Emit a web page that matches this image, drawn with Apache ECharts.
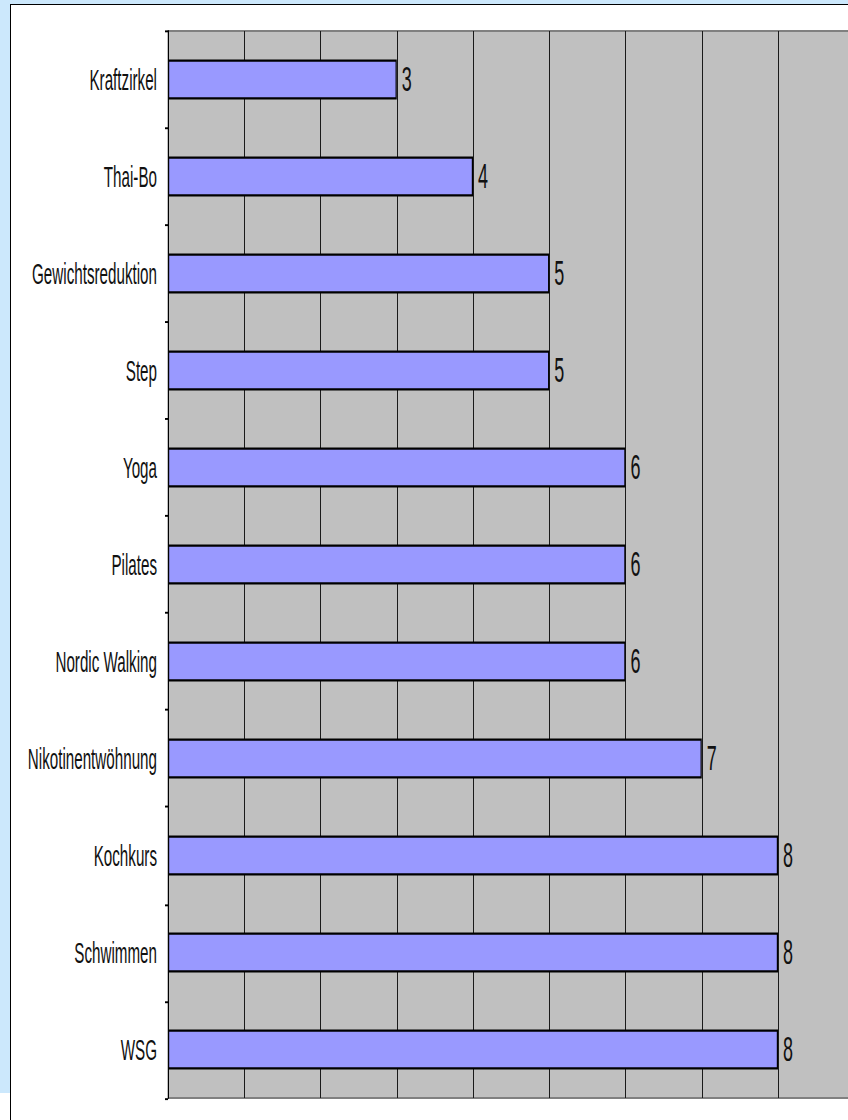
<!DOCTYPE html>
<html>
<head>
<meta charset="utf-8">
<script src="https://cdn.jsdelivr.net/npm/echarts@6/dist/echarts.min.js"></script>
<style>
html, body { margin:0; padding:0; width:848px; height:1120px; overflow:hidden; background:#ffffff; }
#bg { position:absolute; left:0; top:0; width:848px; height:1093px; background:#cce8fc; }
#panel { position:absolute; left:10px; top:4px; width:1000px; height:1200px; background:#ffffff; border-left:1px solid #000; border-top:1px solid #000; }
#chart { position:absolute; left:0; top:0; width:960px; height:590px; transform:scaleY(1.9); transform-origin:0 0; }
</style>
</head>
<body>
<div id="bg"></div>
<div id="panel"></div>
<div id="chart"></div>
<script>
const categories = ['Kraftzirkel','Thai-Bo','Gewichtsreduktion','Step','Yoga','Pilates','Nordic Walking','Nikotinentwöhnung','Kochkurs','Schwimmen','WSG'];
const values = [3,4,5,5,6,6,6,7,8,8,8];
const xMin = 0, xMax = 10, xInterval = 1;

const S = 1.9;
const chart = echarts.init(document.getElementById('chart'), null, { renderer: 'svg' });
chart.setOption({
  animation: false,
  backgroundColor: 'transparent',
  grid: {
    left: 168, top: 31 / S, width: 762.5, height: 1067 / S,
    show: true, backgroundColor: '#c0c0c0', borderColor: '#808080', borderWidth: 1
  },
  xAxis: {
    type: 'value', min: xMin, max: xMax, interval: xInterval,
    axisLine: { show: false }, axisTick: { show: false }, axisLabel: { show: false },
    splitLine: { show: true, lineStyle: { color: '#1a1a1a', width: 1 } }
  },
  yAxis: {
    type: 'category', data: categories, inverse: true,
    axisLine: { show: true, lineStyle: { color: '#000', width: 1 } },
    axisTick: { show: true, length: 3, lineStyle: { color: '#000' } },
    axisLabel: { color: '#111', fontSize: 15.2, fontFamily: 'Liberation Sans, Arial, sans-serif', margin: 11 }
  },
  series: [{
    type: 'bar', data: values, barWidth: 40 / S,
    itemStyle: { color: '#9999ff', borderColor: '#000', borderWidth: 1.2 },
    label: { show: true, position: 'right', distance: 5, color: '#111', fontSize: 18, fontFamily: 'Liberation Sans, Arial, sans-serif' }
  }]
});
</script>
</body>
</html>
